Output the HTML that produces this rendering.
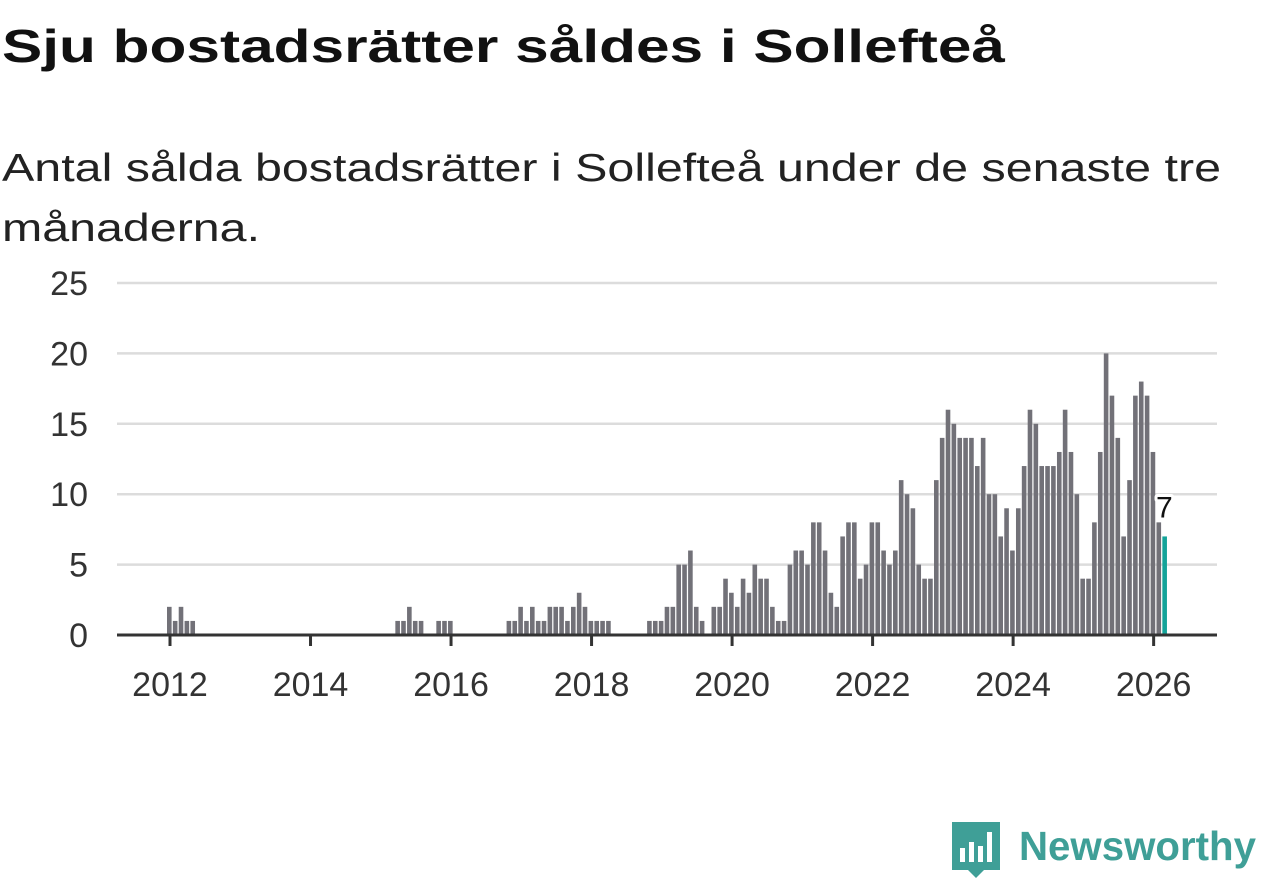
<!DOCTYPE html>
<html><head><meta charset="utf-8"><style>
html,body{margin:0;padding:0;background:#fff;}
svg{display:block;font-family:"Liberation Sans",sans-serif;}
</style></head><body>
<svg id="chart" width="1262" height="879" viewBox="0 0 1262 879" xmlns="http://www.w3.org/2000/svg">
<text x="2" y="62" font-size="46" font-weight="bold" fill="#111" textLength="1003" lengthAdjust="spacingAndGlyphs">Sju bostadsrätter såldes i Sollefteå</text>
<text x="2" y="181" font-size="39" fill="#222" textLength="1219" lengthAdjust="spacingAndGlyphs">Antal sålda bostadsrätter i Sollefteå under de senaste tre</text>
<text x="2" y="241" font-size="39" fill="#222" textLength="258" lengthAdjust="spacingAndGlyphs">månaderna.</text>
<g id="grid"></g>
<g id="bars"></g>
<g id="xaxis"></g>
<g id="yaxis"></g>
<g id="labels"></g>
<g>
<path d="M952 822 h48 v48 h-16 l-8 8 l-8 -8 h-16 z" fill="#3f9f97"/>
<rect x="960" y="848" width="5" height="14" fill="#fff"/>
<rect x="969" y="842" width="5" height="20" fill="#fff"/>
<rect x="978" y="846" width="5" height="16" fill="#fff"/>
<rect x="987" y="832" width="5" height="30" fill="#fff"/>
<text x="1019" y="860" font-size="41" font-weight="bold" fill="#3f9f97" textLength="237" lengthAdjust="spacingAndGlyphs">Newsworthy</text>
</g>
</svg>
<script>
// monthly values, Jan 2012 .. Mar 2026
const values = [
2,1,2,1,1,0,0,0,0,0,0,0,
0,0,0,0,0,0,0,0,0,0,0,0,
0,0,0,0,0,0,0,0,0,0,0,0,
0,0,0,1,1,2,1,1,0,0,1,1,
1,0,0,0,0,0,0,0,0,0,1,1,
2,1,2,1,1,2,2,2,1,2,3,2,
1,1,1,1,0,0,0,0,0,0,1,1,
1,2,2,5,5,6,2,1,0,2,2,4,
3,2,4,3,5,4,4,2,1,1,5,6,
6,5,8,8,6,3,2,7,8,8,4,5,
8,8,6,5,6,11,10,9,5,4,4,11,
14,16,15,14,14,14,12,14,10,10,7,9,
6,9,12,16,15,12,12,12,13,16,13,10,
4,4,8,13,20,17,14,7,11,17,18,17,
13,8,7
];
const yTicks = [0,5,10,15,20,25];
const xYears = [2012,2014,2016,2018,2020,2022,2024,2026];
const startYear = 2012;
const lastLabel = "7";

const NS = "http://www.w3.org/2000/svg";
const y0 = 635, yPer = 14.08, xStart = 167, mw = 5.855, plotL = 117, plotR = 1217;
const yS = v => y0 - v * yPer;
const xS = i => xStart + i * mw;
function mk(tag, attrs, parent){const e=document.createElementNS(NS,tag);for(const k in attrs)e.setAttribute(k,attrs[k]);parent.appendChild(e);return e;}
const grid=document.getElementById('grid'), bars=document.getElementById('bars'), xa=document.getElementById('xaxis'), ya=document.getElementById('yaxis'), lab=document.getElementById('labels');
yTicks.forEach(t=>{
  if(t>0){const l=mk('line',{x1:plotL,x2:plotR,y1:yS(t),y2:yS(t),stroke:'#dcdcdc','stroke-width':2.5},grid);
  
  }
  const tx=mk('text',{x:88,y:yS(t)+12,'font-size':34,fill:'#333','text-anchor':'end'},ya);
  
  
  tx.textContent=t;
});
values.forEach((v,i)=>{
  if(v<=0)return;
  const last=i===values.length-1;
  const r=mk('rect',{x:xS(i),y:yS(v),width:4.6,height:v*yPer,fill:last?'#13a399':'#727178'},bars);
  
  
});
const axis=mk('line',{x1:plotL,x2:plotR,y1:y0,y2:y0,stroke:'#333','stroke-width':3},xa);


xYears.forEach(yr=>{
  const x=xS((yr-startYear)*12)+3;
  const t=mk('line',{x1:x,x2:x,y1:y0,y2:y0+11,stroke:'#333','stroke-width':3},xa);
  
  
  const tx=mk('text',{x:x,y:696,'font-size':34,fill:'#333','text-anchor':'middle'},xa);
  
  
  tx.textContent=yr;
});
const li=values.length-1;
const vl=mk('text',{x:xS(li)+2,y:yS(values[li])-19,'font-size':30,fill:'#111','text-anchor':'middle',stroke:'#fff','stroke-width':6,'paint-order':'stroke','stroke-linejoin':'round'},lab);


vl.textContent=lastLabel;
</script>
</body></html>
